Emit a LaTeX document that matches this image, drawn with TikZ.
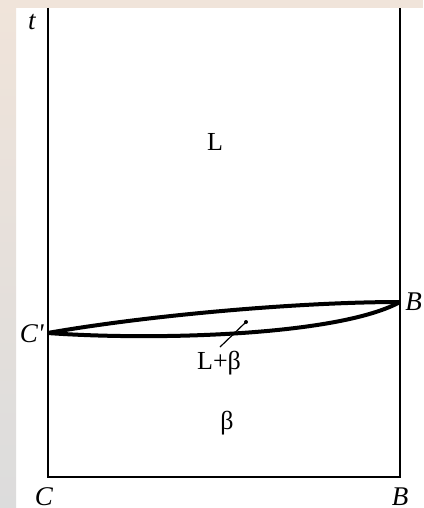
\documentclass[tikz,border=0pt]{standalone}
\usepackage{fontspec}
\setmainfont{Liberation Serif}
\usetikzlibrary{positioning}
\definecolor{fondbeige}{RGB}{240,228,218}
\definecolor{fondgris}{RGB}{220,220,220}

\begin{document}
\begin{tikzpicture}[x=0.5pt,y=-0.5pt,
        pnt/.style={font=\itshape\fontsize{13.5}{15}\selectfont, inner sep=0pt},
        zone/.style={font=\fontsize{13}{15}\selectfont, inner sep=0pt}]
        \useasboundingbox (0,0) rectangle (423,508);
        % fond
        \fill[white] (0,0) rectangle (423,508);
        \fill[fondbeige] (0,0) rectangle (423,8);
        \shade[top color=fondbeige, bottom color=fondgris] (0,0) rectangle (16,508);

        \coordinate (CH) at (47.5,8);
        \coordinate (C) at (47.5,477);
        \coordinate (B) at (400,477);
        \coordinate (BH) at (400,8);
        \coordinate (Cp) at (47.5,333);
        \coordinate (Bp) at (400,302);

        \draw[line width=1pt] (CH) -- (C) -- (B) -- (BH);

        % liquidus et solidus
        \draw[line width=2pt] (Cp) .. controls (150,315) and (300,302) .. (Bp);
        \draw[line width=2pt] (Cp) .. controls (160,341) and (340,335) .. (Bp);

        \coordinate (T1) at (220,347);
        \coordinate (T2) at (246,322);
        \draw[line width=0.6pt] (T1) -- (T2);
        \fill (T2) circle (1pt);

        \node[pnt, anchor=base] (t) at (32,30) {t};
        \node[pnt, anchor=base east] (lCp) at (44,342) {C\textquotesingle};
        \node[pnt, anchor=base west] (lBp) at (405,310) {B};
        \node[pnt, anchor=base] (lC) at (44,505) {C};
        \node[pnt, anchor=base] (lB) at (400,505) {B};

        \node[zone, anchor=base] (L) at (215,150) {L};
        \node[zone, anchor=base] (LB) at (219,369) {L+β};
        \node[zone, anchor=base] (beta) at (227,429) {β};
    \end{tikzpicture}
\end{document}
